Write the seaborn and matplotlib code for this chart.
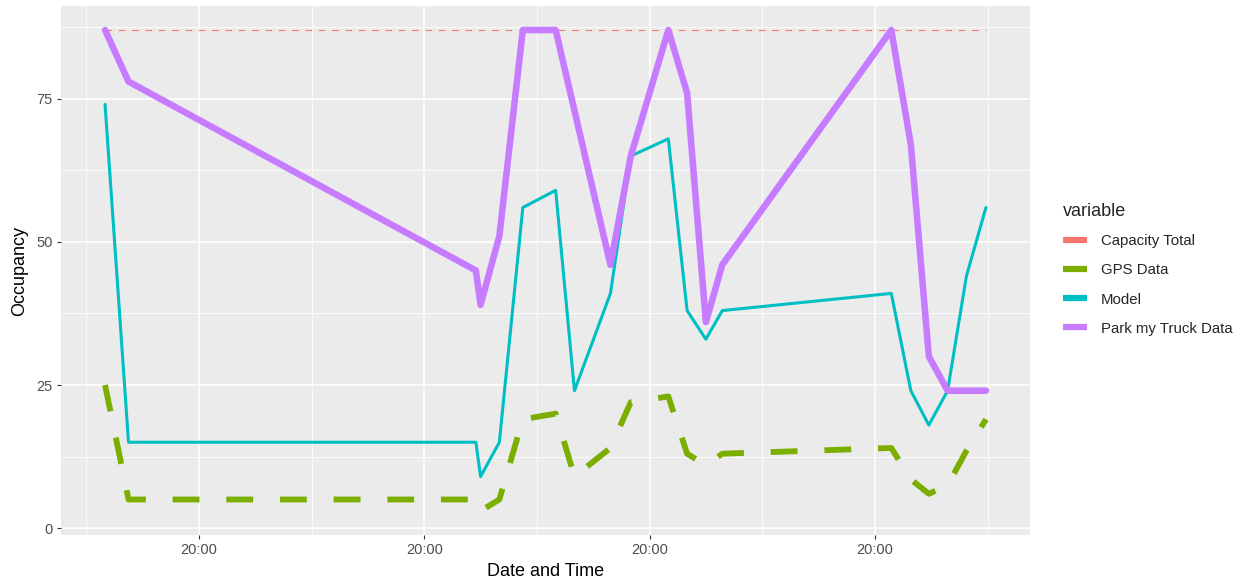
import matplotlib
matplotlib.use("Agg")
import matplotlib.pyplot as plt
import matplotlib.dates as mdates
from matplotlib.lines import Line2D
from matplotlib.ticker import MultipleLocator
import numpy as np
import pandas as pd
import seaborn as sns

# Observation timestamps
times = [
    "2019-06-03 10:00", "2019-06-03 12:30",
    "2019-06-05 01:30", "2019-06-05 02:00", "2019-06-05 04:00", "2019-06-05 06:30",
    "2019-06-05 10:00", "2019-06-05 12:00", "2019-06-05 15:50", "2019-06-05 18:00",
    "2019-06-05 22:00", "2019-06-06 00:00", "2019-06-06 02:00", "2019-06-06 03:45",
    "2019-06-06 21:45", "2019-06-06 23:50", "2019-06-07 01:45", "2019-06-07 03:45",
    "2019-06-07 05:45", "2019-06-07 07:50",
]

capacity_total = [87] * len(times)
gps_data = [25, 5, 5, 3, 5, 19, 20, 9, 14, 22, 23, 13, 11, 13, 14, 8.5, 6, 7.5, 13.5, 19]
model = [74, 15, 15, 9, 15, 56, 59, 24, 41, 65, 68, 38, 33, 38, 41, 24, 18, 24, 44, 56]
park_my_truck = [87, 78, 45, 39, 51, 87, 87, np.nan, 46, 65, 87, 76, 36, 46, 87, 67, 30, 24, np.nan, 24]

variables = ["Capacity Total", "GPS Data", "Model", "Park my Truck Data"]
colors = ["#F8766D", "#7CAE00", "#00BFC4", "#C77CFF"]

wide = pd.DataFrame({
    "time": pd.to_datetime(times),
    "Capacity Total": capacity_total,
    "GPS Data": gps_data,
    "Model": model,
    "Park my Truck Data": park_my_truck,
})
long = wide.melt(id_vars="time", var_name="variable", value_name="value").dropna()

sns.set_theme(style="darkgrid", rc={
    "axes.facecolor": "#EBEBEB",
    "grid.color": "white",
    "axes.edgecolor": "#EBEBEB",
})
plt.rcParams["font.family"] = ["Liberation Sans", "DejaVu Sans"]

fig = plt.figure(figsize=(12.44, 5.84), dpi=100)
ax = fig.add_axes([61 / 1244, 1 - 535 / 584, (1030 - 61) / 1244, (535 - 6) / 584])

styles = {
    "Capacity Total": dict(lw=0.8, ls=(0, (6, 6))),
    "GPS Data": dict(lw=4.2, ls=(0, (4.6, 4.6))),
    "Model": dict(lw=2.2, ls="-"),
    "Park my Truck Data": dict(lw=4.7, ls="-"),
}
for var, col in zip(variables, colors):
    sub = long[long["variable"] == var]
    sns.lineplot(data=sub, x="time", y="value", ax=ax, color=col,
                 linewidth=styles[var]["lw"], linestyle=styles[var]["ls"],
                 legend=False, zorder=3)

ax.set_ylim(-1.2, 91.2)
ax.margins(x=0.05)
ax.yaxis.set_major_locator(MultipleLocator(25))
ax.yaxis.set_minor_locator(MultipleLocator(12.5))
ax.xaxis.set_major_locator(mdates.HourLocator(byhour=[20]))
ax.xaxis.set_minor_locator(mdates.HourLocator(byhour=[8]))
ax.xaxis.set_major_formatter(mdates.DateFormatter("%H:%M"))
ax.grid(which="major", color="white", lw=1.1)
ax.grid(which="minor", color="white", lw=0.55)
for s in ax.spines.values():
    s.set_visible(False)
ax.tick_params(axis="both", which="major", length=3, width=0.8, color="#333333",
               labelcolor="#4D4D4D", labelsize=10.5, pad=3, bottom=True, left=True)
ax.tick_params(axis="both", which="minor", length=0)

ax.set_xlabel("Date and Time", fontsize=13, color="black", labelpad=4)
ax.set_ylabel("Occupancy", fontsize=13, color="black", labelpad=6)

handles = [Line2D([], [], color=c, lw=4.5, solid_capstyle="butt") for c in colors]
leg = fig.legend(handles, variables, title="variable", loc="upper left",
                 bbox_to_anchor=(1052 / 1244, 1 - 192 / 584), frameon=False,
                 fontsize=10.8, title_fontsize=13, handlelength=1.65,
                 labelspacing=1.0, handletextpad=0.9, borderpad=0.2,
                 alignment="left")

fig.savefig("out.png", dpi=100, facecolor="white")
